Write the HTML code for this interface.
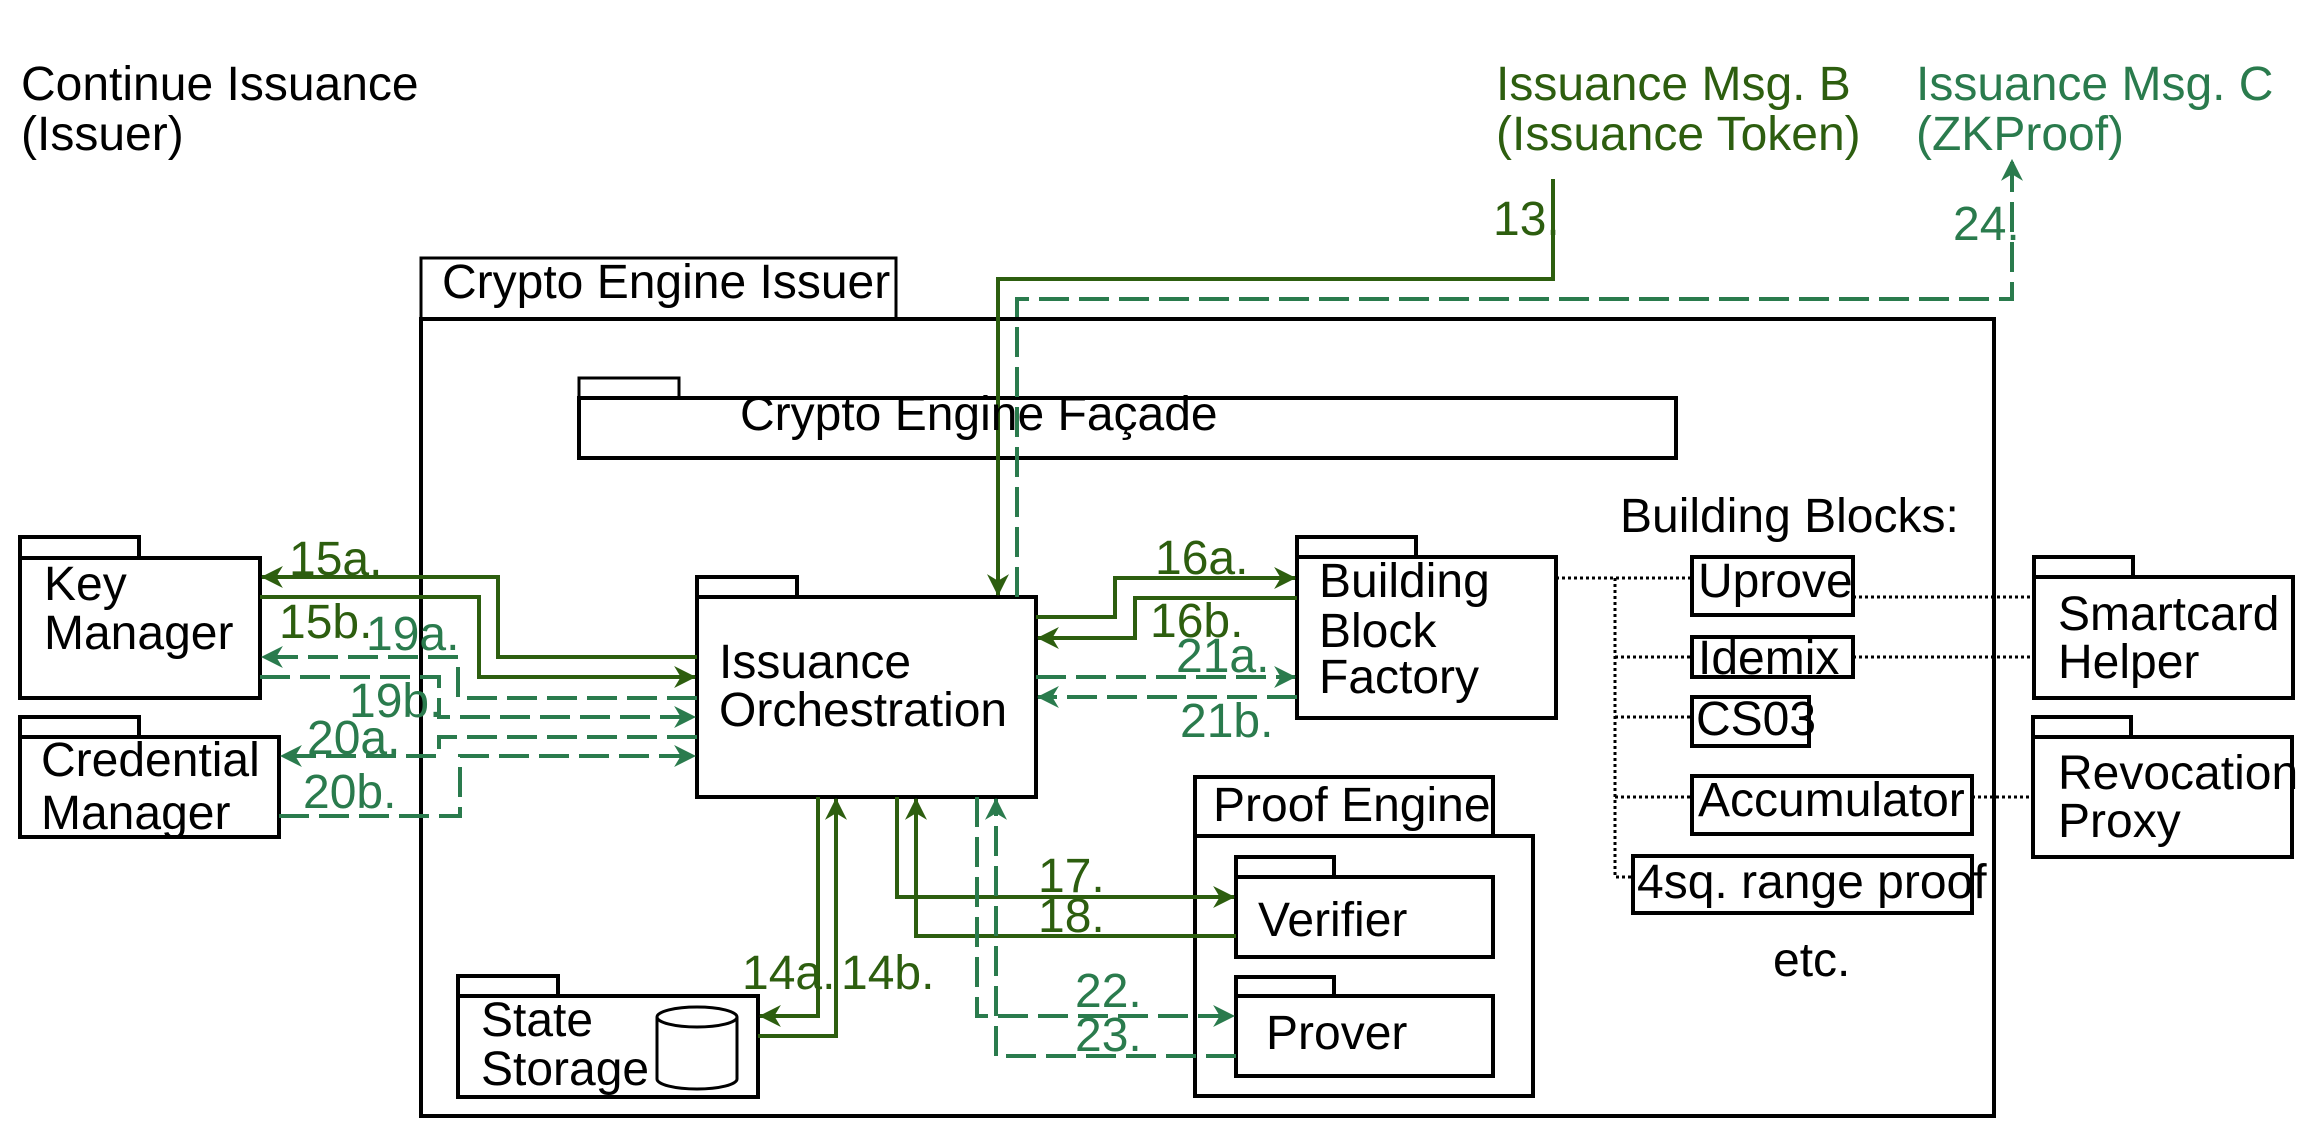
<!DOCTYPE html>
<html><head><meta charset="utf-8"><style>
html,body{margin:0;padding:0;background:#fff;}
svg{display:block;}
text{font-family:"Liberation Sans",sans-serif;font-size:48px;}
</style></head><body>
<svg width="2311" height="1136" viewBox="0 0 2311 1136" xmlns="http://www.w3.org/2000/svg">
<defs>
<marker id="ad" viewBox="0 0 20 20" refX="19" refY="10" markerWidth="22" markerHeight="22" markerUnits="userSpaceOnUse" orient="auto"><path d="M0,0 L20,10 L0,20 L6,10 z" fill="#2d5e0f"/></marker>
<marker id="am" viewBox="0 0 20 20" refX="19" refY="10" markerWidth="22" markerHeight="22" markerUnits="userSpaceOnUse" orient="auto"><path d="M0,0 L20,10 L0,20 L6,10 z" fill="#2a7b4d"/></marker>
</defs>
<g fill="none" stroke="#000" stroke-width="4">
<rect x="421" y="258" width="475" height="61" stroke-width="3"/>
<rect x="421" y="319" width="1573" height="797" stroke-width="4"/>
<rect x="579" y="378" width="100" height="20" stroke-width="3"/>
<rect x="579" y="398" width="1097" height="60"/>
<rect x="20" y="537" width="119" height="21"/>
<rect x="20" y="558" width="240" height="140"/>
<rect x="20" y="717" width="119" height="20"/>
<rect x="20" y="737" width="259" height="100"/>
<rect x="697" y="577" width="100" height="20"/>
<rect x="697" y="597" width="339" height="200"/>
<rect x="1297" y="537" width="119" height="20"/>
<rect x="1297" y="557" width="259" height="161"/>
<rect x="1692" y="557" width="161" height="58"/>
<rect x="1692" y="637" width="161" height="40"/>
<rect x="1692" y="697" width="117" height="49"/>
<rect x="1692" y="776" width="280" height="58"/>
<rect x="1633" y="856" width="339" height="57"/>
<rect x="2034" y="557" width="99" height="20"/>
<rect x="2034" y="577" width="259" height="121"/>
<rect x="2033" y="717" width="98" height="20"/>
<rect x="2033" y="737" width="259" height="120"/>
<rect x="1195" y="777" width="298" height="59"/>
<rect x="1195" y="836" width="338" height="260"/>
<rect x="1236" y="857" width="98" height="20"/>
<rect x="1236" y="877" width="257" height="80"/>
<rect x="1236" y="977" width="98" height="19"/>
<rect x="1236" y="996" width="257" height="80"/>
<rect x="458" y="976" width="100" height="20"/>
<rect x="458" y="996" width="300" height="101"/>
<path d="M657,1017 L657,1079 A40,10 0 0 0 737,1079 L737,1017" stroke-width="3"/>
<ellipse cx="697" cy="1017" rx="40" ry="10" stroke-width="3"/>
</g>
<g stroke="#000" stroke-width="3" stroke-dasharray="3 3" fill="none">
<path d="M1556,578 H1692"/>
<path d="M1615,578 V877 H1633"/>
<path d="M1615,657 H1692"/>
<path d="M1615,717 H1692"/>
<path d="M1615,797 H1692"/>
<path d="M1853,597 H2034"/>
<path d="M1853,657 H2034"/>
<path d="M1972,797 H2033"/>
</g>
<g stroke="#2d5e0f" stroke-width="4" fill="none">
<path d="M1553,179 V279 H998 V595" marker-end="url(#ad)"/>
<path d="M697,657 H498 V577 H262" marker-end="url(#ad)"/>
<path d="M260,597 H479 V677 H695" marker-end="url(#ad)"/>
<path d="M1036,617 H1115 V578 H1295" marker-end="url(#ad)"/>
<path d="M1297,598 H1135 V638 H1038" marker-end="url(#ad)"/>
<path d="M818,797 V1016 H760" marker-end="url(#ad)"/>
<path d="M758,1036 H836 V799" marker-end="url(#ad)"/>
<path d="M897,797 V897 H1234" marker-end="url(#ad)"/>
<path d="M1236,936 H916 V799" marker-end="url(#ad)"/>
</g>
<g stroke="#2a7b4d" stroke-width="4" fill="none" stroke-dasharray="30 10">
<path d="M1017,597 V299 H2012 V160" marker-end="url(#am)"/>
<path d="M697,698 H458 V657 H262" marker-end="url(#am)"/>
<path d="M260,677 H439 V717 H695" marker-end="url(#am)"/>
<path d="M697,737 H439 V756 H281" marker-end="url(#am)"/>
<path d="M279,816 H460 V756 H695" marker-end="url(#am)"/>
<path d="M1036,677 H1295" marker-end="url(#am)"/>
<path d="M1297,697 H1038" marker-end="url(#am)"/>
<path d="M977,797 V1016 H1234" marker-end="url(#am)"/>
<path d="M1236,1056 H996 V799" marker-end="url(#am)"/>
</g>
<g fill="#000">
<text x="21" y="100">Continue Issuance</text>
<text x="21" y="150">(Issuer)</text>
<text x="442" y="298">Crypto Engine Issuer</text>
<text x="740" y="430">Crypto Engine Façade</text>
<text x="44" y="600">Key</text>
<text x="44" y="649">Manager</text>
<text x="41" y="776">Credential</text>
<text x="41" y="829">Manager</text>
<text x="719" y="678">Issuance</text>
<text x="719" y="726">Orchestration</text>
<text x="481" y="1036">State</text>
<text x="481" y="1085">Storage</text>
<text x="1319" y="597">Building</text>
<text x="1319" y="647">Block</text>
<text x="1319" y="693">Factory</text>
<text x="1620" y="532">Building Blocks:</text>
<text x="1698" y="597">Uprove</text>
<text x="1698" y="674">Idemix</text>
<text x="1696" y="735">CS03</text>
<text x="1698" y="816">Accumulator</text>
<text x="1637" y="898">4sq. range proof</text>
<text x="1773" y="976">etc.</text>
<text x="2058" y="630">Smartcard</text>
<text x="2058" y="678">Helper</text>
<text x="2058" y="789">Revocation</text>
<text x="2058" y="837">Proxy</text>
<text x="1213" y="821">Proof Engine</text>
<text x="1258" y="936">Verifier</text>
<text x="1266" y="1049">Prover</text>
</g>
<g fill="#2d5e0f">
<text x="1496" y="100">Issuance Msg. B</text>
<text x="1496" y="150">(Issuance Token)</text>
<text x="1493" y="235">13.</text>
<text x="289" y="575">15a.</text>
<text x="279" y="638">15b.</text>
<text x="1155" y="574">16a.</text>
<text x="1150" y="637">16b.</text>
<text x="742" y="989">14a.</text>
<text x="841" y="989">14b.</text>
<text x="1038" y="892">17.</text>
<text x="1038" y="932">18.</text>
</g>
<g fill="#2a7b4d">
<text x="1916" y="100">Issuance Msg. C</text>
<text x="1916" y="150">(ZKProof)</text>
<text x="1953" y="240">24.</text>
<text x="366" y="650">19a.</text>
<text x="349" y="717">19b.</text>
<text x="307" y="754">20a.</text>
<text x="303" y="808">20b.</text>
<text x="1176" y="672">21a.</text>
<text x="1180" y="737">21b.</text>
<text x="1075" y="1007">22.</text>
<text x="1075" y="1051">23.</text>
</g>
</svg>
</body></html>
